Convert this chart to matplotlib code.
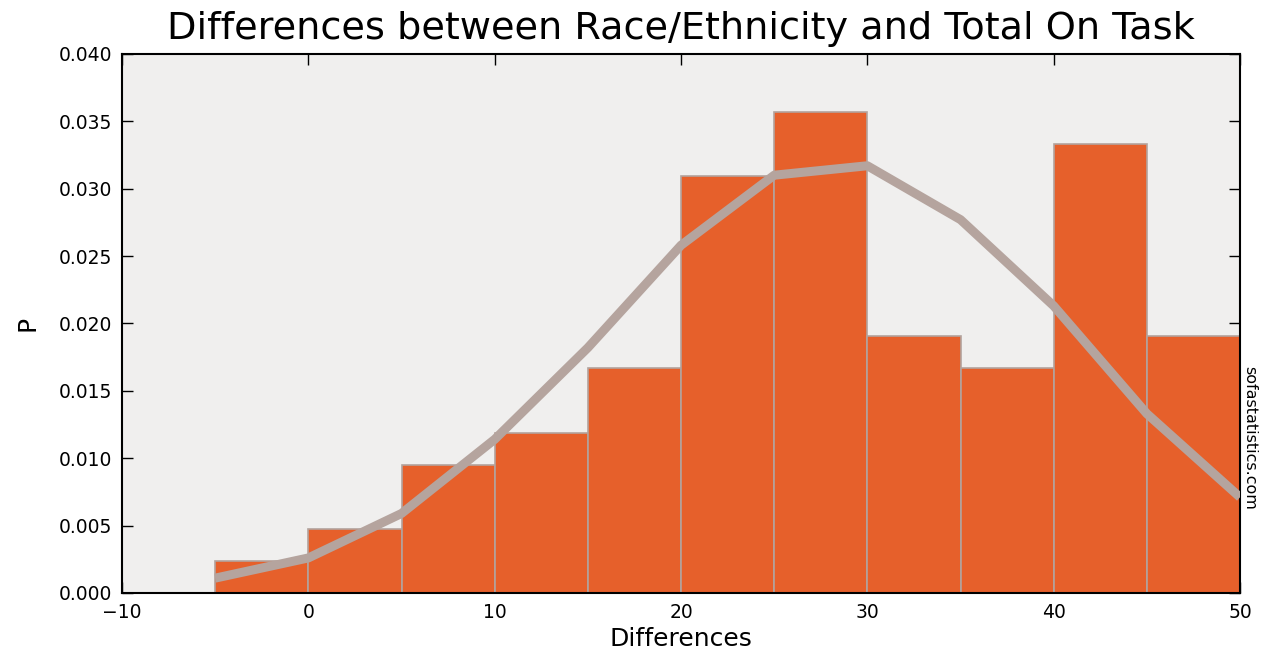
import numpy as np
import matplotlib
matplotlib.use("Agg")
import matplotlib.pyplot as plt

# bin edges and normalised frequencies (counts / (n * width))
bin_edges = [-5, 0, 5, 10, 15, 20, 25, 30, 35, 40, 45, 50]
counts = [1, 2, 4, 5, 7, 13, 15, 8, 7, 14, 8]
n_total = 84
bin_width = 5

# normal curve at each bin edge
curve_x = [-5, 0, 5, 10, 15, 20, 25, 30, 35, 40, 45, 50]
curve_y = [0.0011, 0.0026, 0.0059, 0.0114, 0.0182, 0.0258, 0.0310, 0.0317,
           0.0277, 0.0213, 0.0133, 0.0071]

dens = np.array(counts) / (n_total * bin_width)

fig = plt.figure(figsize=(12.66, 6.59), dpi=100)
ax = fig.add_axes([0.0964, 0.1002, 0.8831, 0.8180])
ax.set_facecolor("#f0efee")

ax.bar(bin_edges[:-1], dens, width=bin_width, align="edge",
       color="#e6602b", edgecolor="#b3a39d", linewidth=1.2, zorder=2)
ax.plot(curve_x, curve_y, color="#b5a49e", linewidth=6.5, zorder=3,
        solid_capstyle="butt")

ax.set_xlim(-10, 50)
ax.set_ylim(0, 0.040)
ax.set_xticks(range(-10, 51, 10))
ax.set_xticklabels(["\u221210", "0", "10", "20", "30", "40", "50"])
ax.set_yticks(np.arange(0, 0.0401, 0.005))
ax.yaxis.set_major_formatter(matplotlib.ticker.FormatStrFormatter("%.3f"))
ax.tick_params(direction="in", length=8, width=1, top=True, right=True,
               labelsize=13.5, pad=7)
for s in ax.spines.values():
    s.set_linewidth(1.5)

ax.set_title("Differences between Race/Ethnicity and Total On Task",
             fontsize=27.5, pad=11)
ax.set_xlabel("Differences", fontsize=18, labelpad=4)
ax.set_ylabel("P", fontsize=18, labelpad=14)

fig.text(0.9875, 0.335, "sofastatistics.com", rotation=270, fontsize=11.5,
         ha="center", va="center")

fig.savefig("out.png", dpi=100)
